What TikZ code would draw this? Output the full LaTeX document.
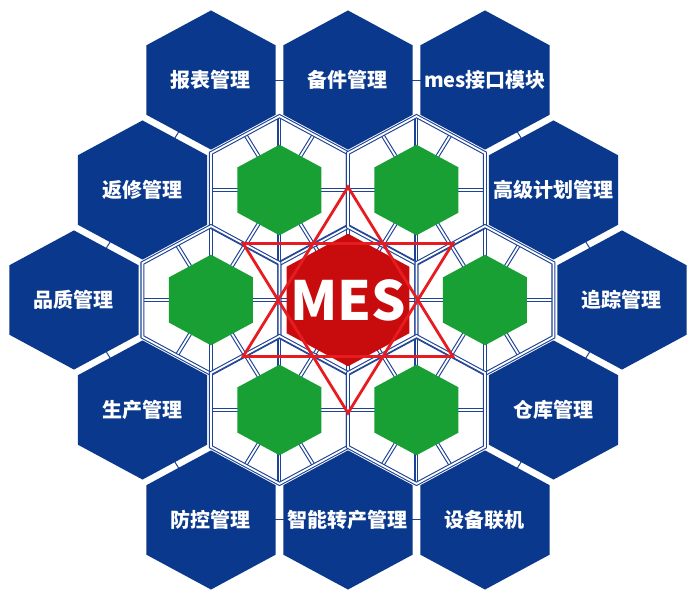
\documentclass[tikz,border=0pt]{standalone}
\usepackage{fontspec}
\setmainfont{Noto Sans CJK SC}
\usetikzlibrary{calc}
\definecolor{hexblue}{RGB}{10,56,140}
\definecolor{gridblue}{RGB}{30,66,150}
\definecolor{hexgreen}{RGB}{24,160,52}
\definecolor{mesred}{RGB}{200,12,14}
\definecolor{starred}{RGB}{230,28,32}

\begin{document}
\begin{tikzpicture}[x=0.5pt,y=0.467pt,
  hexof/.style={insert path={+(90:#1) -- +(150:#1) -- +(210:#1) -- +(270:#1) -- +(330:#1) -- +(30:#1) -- cycle}},
  cellline/.style={draw=gridblue,line width=0.55pt,double=white,double distance=0.9pt},
  tickline/.style={draw=gridblue,line width=0.5pt},
  hexlabel/.style={text=white,font=\bfseries\fontsize{10}{12}\selectfont},
  starline/.style={draw=starred,line width=1.4pt,line join=miter}]
\useasboundingbox (-348,-322.3) rectangle (350,321.2);
\coordinate (mes) at (0,0);
\foreach \nm/\px/\py in {g1/-68.5/117.75,g2/68.5/117.75,g3/-137/0,g4/137/0,g5/-68.5/-117.75,g6/68.5/-117.75}
  \coordinate (\nm) at (\px,\py);
\foreach \nm/\px/\py in {rep/-137/235.5,spare/0/235.5,iface/137/235.5,repair/-205.5/117.75,plan/205.5/117.75,qual/-274/0,track/274/0,prod/-205.5/-117.75,store/205.5/-117.75,prevent/-137/-235.5,switch/0/-235.5,equip/137/-235.5}
  \coordinate (\nm) at (\px,\py);
\foreach \c in {mes,g1,g2,g3,g4,g5,g6} {
  \draw[cellline] (\c) +(0:68.5) -- +(180:68.5);
  \draw[cellline] (\c) +(60:68.5) -- +(240:68.5);
  \draw[cellline] (\c) +(120:68.5) -- +(300:68.5);
  \draw[cellline] (\c) +(90:79.1) -- +(270:79.1);
}
\foreach \c in {mes,g1,g2,g3,g4,g5,g6}
  \draw[cellline] (\c) [hexof=79.1];
\foreach \a/\b in {rep/spare,spare/iface,iface/plan,plan/track,track/store,store/equip,equip/switch,switch/prevent,prevent/prod,prod/qual,qual/repair,repair/rep}
  \draw[tickline] (\a) -- (\b);
\foreach \c in {rep,spare,iface,repair,plan,qual,track,prod,store,prevent,switch,equip}
  \fill[hexblue] (\c) [hexof=74.5];
\foreach \c in {g1,g2,g3,g4,g5,g6}
  \fill[hexgreen] (\c) [hexof=48.5];
\fill[mesred] (mes) [hexof=71];
\draw[starline] (mes) +(90:121) -- +(210:121) -- +(330:121) -- cycle;
\draw[starline] (mes) +(270:121) -- +(30:121) -- +(150:121) -- cycle;
\node[hexlabel] (rep-t) at (rep) {报表管理};
\node[hexlabel] (spare-t) at (spare) {备件管理};
\node[hexlabel] (iface-t) at (iface) {mes接口模块};
\node[hexlabel] (repair-t) at (repair) {返修管理};
\node[hexlabel] (plan-t) at (plan) {高级计划管理};
\node[hexlabel] (qual-t) at (qual) {品质管理};
\node[hexlabel] (track-t) at (track) {追踪管理};
\node[hexlabel] (prod-t) at (prod) {生产管理};
\node[hexlabel] (store-t) at (store) {仓库管理};
\node[hexlabel] (prevent-t) at (prevent) {防控管理};
\node[hexlabel] (switch-t) at (switch) {智能转产管理};
\node[hexlabel] (equip-t) at (equip) {设备联机};
\node[text=white,font=\bfseries\fontsize{27}{30}\selectfont] (mes-t) at (mes) {MES};
\end{tikzpicture}
\end{document}
